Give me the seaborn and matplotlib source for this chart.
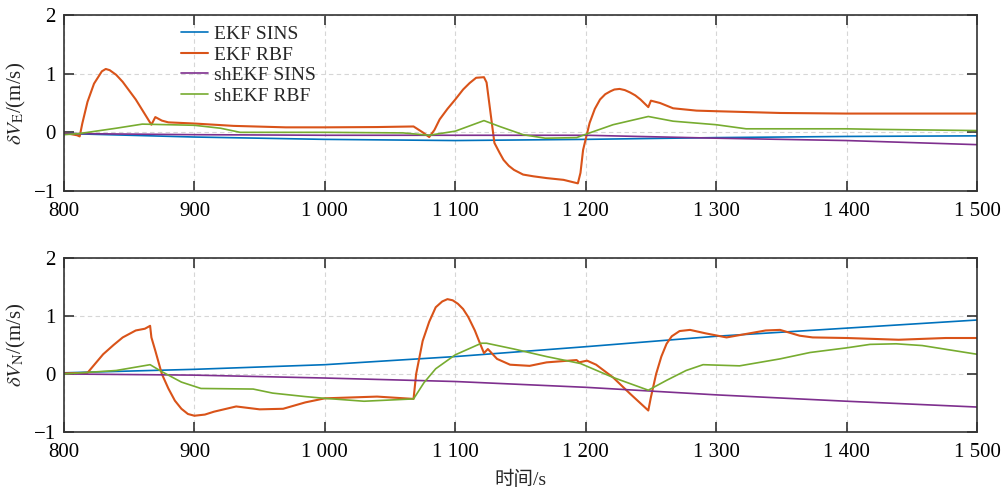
import numpy as np
import pandas as pd
import matplotlib
matplotlib.use('Agg')
import matplotlib.pyplot as plt
import seaborn as sns

# ---- data ----
t_lin = [800, 900, 1000, 1100, 1200, 1300, 1400, 1500]

# top panel (east velocity error)
e_ekf_sins = [-0.02, -0.08, -0.12, -0.14, -0.12, -0.09, -0.07, -0.06]
e_sh_sins = [-0.02, -0.04, -0.05, -0.05, -0.05, -0.10, -0.14, -0.21]

t_e_ekf_rbf = [800, 805, 810, 812, 814, 818, 823, 829, 832, 835, 840, 845, 855,
               867, 870, 875, 880, 900, 930, 970, 1000, 1040, 1068, 1075, 1080,
               1084, 1088, 1094, 1100, 1106, 1111, 1116, 1122, 1124, 1130, 1134,
               1137, 1141, 1145, 1152, 1160, 1170, 1183, 1194, 1196, 1198, 1203,
               1207, 1211, 1215, 1219, 1222, 1226, 1230, 1234, 1238, 1242, 1248,
               1250, 1257, 1267, 1285, 1300, 1349, 1400, 1500]
e_ekf_rbf = [-0.02, -0.03, -0.05, -0.07, 0.15, 0.52, 0.83, 1.04, 1.08, 1.06,
             0.98, 0.86, 0.56, 0.13, 0.26, 0.20, 0.17, 0.15, 0.11, 0.085, 0.085,
             0.09, 0.10, 0.0, -0.08, 0.04, 0.22, 0.40, 0.56, 0.73, 0.84, 0.93,
             0.94, 0.85, -0.18, -0.35, -0.47, -0.57, -0.64, -0.72, -0.75, -0.78,
             -0.81, -0.87, -0.69, -0.30, 0.16, 0.40, 0.56, 0.65, 0.70, 0.73, 0.74,
             0.72, 0.68, 0.63, 0.56, 0.43, 0.54, 0.50, 0.41, 0.37, 0.36, 0.33,
             0.32, 0.32]

t_e_sh_rbf = [800, 812, 840, 860, 900, 920, 935, 1000, 1060, 1080, 1100, 1122,
              1134, 1152, 1169, 1193, 1203, 1221, 1248, 1267, 1300, 1323, 1400,
              1425, 1500]
e_sh_rbf = [-0.04, -0.02, 0.07, 0.14, 0.12, 0.07, 0.0, 0.0, -0.01, -0.05, 0.02,
            0.20, 0.10, -0.04, -0.10, -0.09, -0.01, 0.13, 0.27, 0.19, 0.13, 0.06,
            0.06, 0.05, 0.03]

# bottom panel (north velocity error)
n_ekf_sins = [0.02, 0.08, 0.16, 0.30, 0.47, 0.65, 0.79, 0.93]
n_sh_sins = [0.0, -0.02, -0.07, -0.13, -0.23, -0.36, -0.47, -0.57]

t_n_ekf_rbf = [800, 818, 824, 830, 838, 845, 855, 862, 866, 867, 870, 875, 880,
               885, 890, 895, 900, 908, 915, 932, 950, 968, 985, 1000, 1040, 1068,
               1070, 1075, 1080, 1085, 1090, 1094, 1098, 1102, 1106, 1110, 1115,
               1118, 1122, 1125, 1132, 1142, 1157, 1170, 1193, 1195, 1201, 1208,
               1221, 1234, 1248, 1250, 1254, 1258, 1262, 1266, 1272, 1280, 1292,
               1308, 1323, 1338, 1349, 1364, 1374, 1400, 1440, 1476, 1500]
n_ekf_rbf = [0.01, 0.02, 0.18, 0.34, 0.50, 0.63, 0.75, 0.78, 0.83, 0.63, 0.40,
             0.0, -0.25, -0.46, -0.60, -0.69, -0.72, -0.70, -0.65, -0.56, -0.61,
             -0.60, -0.49, -0.42, -0.39, -0.43, 0.0, 0.57, 0.90, 1.15, 1.25, 1.29,
             1.27, 1.21, 1.12, 0.98, 0.75, 0.58, 0.36, 0.43, 0.26, 0.16, 0.14,
             0.20, 0.24, 0.20, 0.23, 0.16, -0.06, -0.34, -0.63, -0.40, 0.0, 0.30,
             0.52, 0.65, 0.74, 0.76, 0.70, 0.63, 0.69, 0.75, 0.76, 0.66, 0.63,
             0.62, 0.59, 0.62, 0.62]

t_n_sh_rbf = [800, 840, 866, 875, 890, 905, 945, 960, 985, 1000, 1030, 1068, 1076,
              1085, 1100, 1120, 1124, 1145, 1170, 1196, 1221, 1248, 1262, 1277,
              1290, 1318, 1349, 1372, 1400, 1418, 1438, 1458, 1500]
n_sh_rbf = [0.0, 0.06, 0.16, 0.04, -0.14, -0.25, -0.26, -0.33, -0.39, -0.42,
            -0.47, -0.43, -0.15, 0.09, 0.33, 0.53, 0.53, 0.43, 0.30, 0.18, -0.06,
            -0.28, -0.11, 0.06, 0.16, 0.14, 0.26, 0.37, 0.45, 0.51, 0.52, 0.49, 0.34]

series_names = ['EKF SINS', 'EKF RBF', 'shEKF SINS', 'shEKF RBF']
x_ticks = [800, 900, 1000, 1100, 1200, 1300, 1400, 1500]

# matlab default colours
COLORS = ['#0072BD', '#D95319', '#7E2F8E', '#77AC30']

sns.set_theme(style='ticks')
plt.rcParams['font.family'] = ['Liberation Serif', 'Noto Sans CJK SC']
plt.rcParams['mathtext.fontset'] = 'stix'
plt.rcParams['axes.unicode_minus'] = True

fig = plt.figure(figsize=(10.02, 4.92), dpi=100)
ax_top = fig.add_axes([0.0639, 0.6118, 0.9111, 0.3577])
ax_bot = fig.add_axes([0.0639, 0.1220, 0.9111, 0.3537])


def fmt_tick(v):
    s = f'{v:,}'.replace(',', ' ')
    return s


def draw_panel(ax, lines, ylabel):
    for (t, v, name), col in zip(lines, COLORS):
        lw = 1.5 if name == 'EKF RBF' else 1.2
        sns.lineplot(x=t, y=v, ax=ax, color=col, linewidth=lw, label=name)
    ax.set_xlim(800, 1500)
    ax.set_ylim(-1, 2)
    ax.set_xticks(x_ticks)
    ax.set_xticklabels([fmt_tick(v) for v in x_ticks])
    ax.set_yticks([-1, 0, 1, 2])
    ax.set_axisbelow(True)
    ax.grid(True, color='#d6d6d6', linestyle=(0, (4, 3)), linewidth=0.8)
    ax.tick_params(direction='in', top=True, right=True, length=7, width=1.2,
                   color='#333333', labelsize=15, pad=8, labelcolor='black')
    ax.tick_params(axis='y', pad=6)
    for sp in ax.spines.values():
        sp.set_color('#333333')
        sp.set_linewidth(1.2)
    ax.set_ylabel(ylabel, fontsize=15, labelpad=4)
    ax.set_xlabel('')


draw_panel(ax_top, [(t_lin, e_ekf_sins, series_names[0]),
                    (t_e_ekf_rbf, e_ekf_rbf, series_names[1]),
                    (t_lin, e_sh_sins, series_names[2]),
                    (t_e_sh_rbf, e_sh_rbf, series_names[3])],
           r'$\delta V_{\mathrm{E}}$/(m/s)')
draw_panel(ax_bot, [(t_lin, n_ekf_sins, series_names[0]),
                    (t_n_ekf_rbf, n_ekf_rbf, series_names[1]),
                    (t_lin, n_sh_sins, series_names[2]),
                    (t_n_sh_rbf, n_sh_rbf, series_names[3])],
           r'$\delta V_{\mathrm{N}}$/(m/s)')

ax_top.legend(loc='upper left', bbox_to_anchor=(0.128, 0.94), frameon=False,
              fontsize=14, handlelength=1.4, handletextpad=0.3,
              labelspacing=0.15, borderpad=0, borderaxespad=0)
ax_bot.get_legend().remove()
ax_bot.set_xlabel('时间/s', fontsize=14, labelpad=6)

fig.savefig('out.png', dpi=100)
